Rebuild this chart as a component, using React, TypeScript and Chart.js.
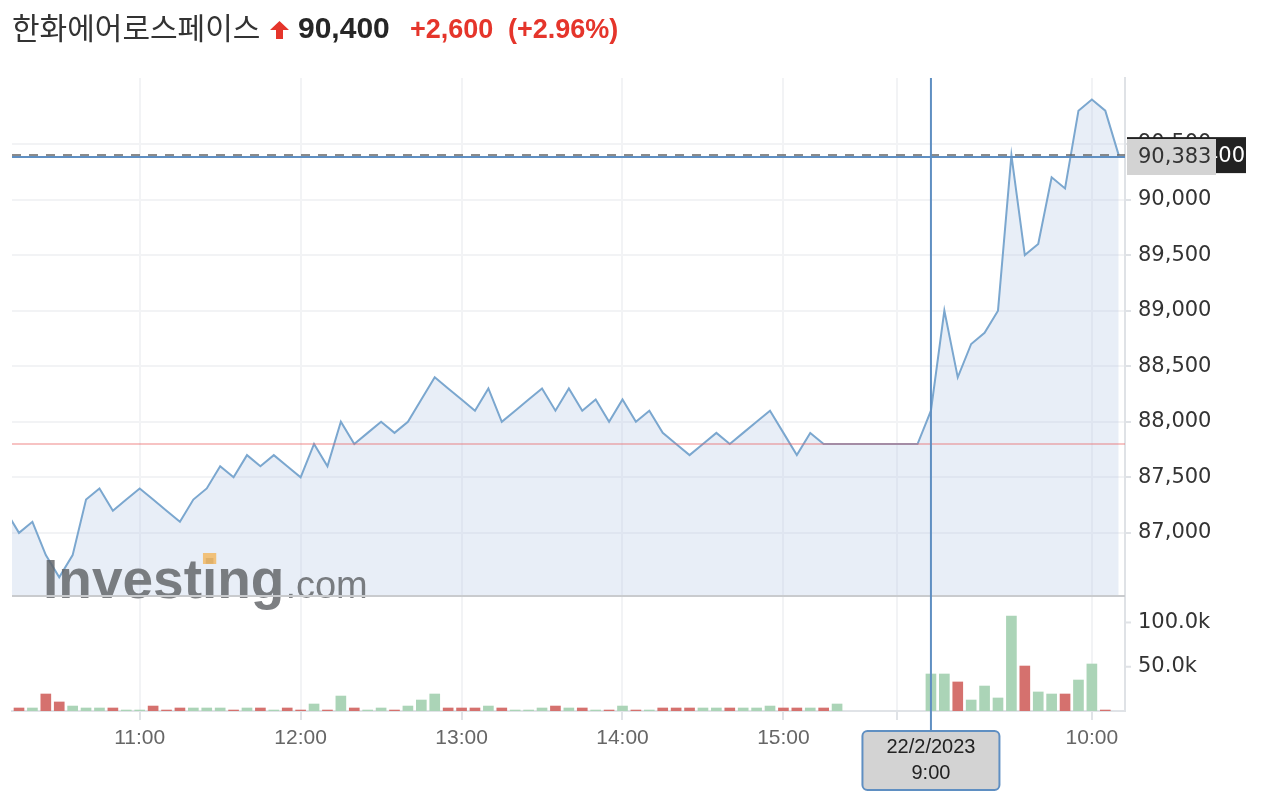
import React, { useEffect, useRef } from 'react';
import { Chart, registerables } from 'chart.js';

Chart.register(...registerables);

// ---------- header ----------
const STOCK_NAME = '한화에어로스페이스';
const LAST_PRICE = 90400;
const CHANGE_TEXT = '+2,600';
const CHANGE_PCT_TEXT = '(+2.96%)';
const PREV_CLOSE = 87800;

// ---------- crosshair state ----------
const CROSSHAIR_PRICE = 90383;
const CROSSHAIR_SLOT = 69;
const CROSSHAIR_DATE = '22/2/2023';
const CROSSHAIR_TIME = '9:00';

// ---------- day 1: 5-minute closes, slots 0..62 (10:10 .. 15:20) ----------
const DAY1_PRICES = [
  87200, 87000, 87100, 86800, 86600, 86800, 87300, 87400, 87200, 87300,
  87400, 87300, 87200, 87100, 87300, 87400, 87600, 87500, 87700, 87600,
  87700, 87600, 87500, 87800, 87600, 88000, 87800, 87900, 88000, 87900,
  88000, 88200, 88400, 88300, 88200, 88100, 88300, 88000, 88100, 88200,
  88300, 88100, 88300, 88100, 88200, 88000, 88200, 88000, 88100, 87900,
  87800, 87700, 87800, 87900, 87800, 87900, 88000, 88100, 87900, 87700,
  87900, 87800, 87800,
];
const DAY1_VOLUMES = [
  0, 3400, 3400, 19200, 10200, 5600, 3400, 3400, 3400, 1100,
  1100, 5600, 1100, 3400, 3400, 3400, 3400, 1100, 3400, 3400,
  1100, 3400, 1100, 7900, 1100, 16900, 3400, 1100, 3400, 1100,
  5600, 12400, 19200, 3400, 3400, 3400, 5600, 3400, 1100, 1100,
  3400, 5600, 3400, 3400, 1100, 1100, 5600, 1100, 1100, 3400,
  3400, 3400, 3400, 3400, 3400, 3400, 3400, 5600, 3400, 3400,
  3400, 3400, 7900,
];
const DAY1_DIRS = [
  'U', 'D', 'U', 'D', 'D', 'U', 'U', 'U', 'D', 'U',
  'U', 'D', 'D', 'D', 'U', 'U', 'U', 'D', 'U', 'D',
  'U', 'D', 'D', 'U', 'D', 'U', 'D', 'U', 'U', 'D',
  'U', 'U', 'U', 'D', 'D', 'D', 'U', 'D', 'U', 'U',
  'U', 'D', 'U', 'D', 'U', 'D', 'U', 'D', 'U', 'D',
  'D', 'D', 'U', 'U', 'D', 'U', 'U', 'U', 'D', 'D',
  'U', 'D', 'U',
];

// ---------- day 2 (22/2/2023): slots 68..83 (8:55 .. 10:10) ----------
const DAY2_FIRST_SLOT = 68;
const DAY2_PRICES = [
  87800, 88100, 89000, 88400, 88700, 88800, 89000, 90400,
  89500, 89600, 90200, 90100, 90800, 90900, 90800, 90400,
];
const DAY2_VOLUMES = [
  0, 41800, 41800, 32800, 12400, 28200, 14700, 107300,
  50800, 21500, 19200, 19200, 35000, 53100, 1100, 0,
];
const DAY2_DIRS = [
  'U', 'U', 'U', 'D', 'U', 'U', 'U', 'U',
  'D', 'U', 'U', 'D', 'U', 'U', 'D', 'D',
];

// ---------- axes ----------
const X_TICK_SLOTS = [10, 22, 34, 46, 58, 66.45, 81];
const X_TICK_LABELS = ['11:00', '12:00', '13:00', '14:00', '15:00', '9:00', '10:00'];
const PRICE_TICKS = [87000, 87500, 88000, 88500, 89000, 89500, 90000, 90500];
const VOLUME_TICKS = [50000, 100000];
const VOLUME_TICK_LABELS = ['50.0k', '100.0k'];

const X_MIN = 0.478;
const X_MAX = 83.47;
const PRICE_MIN = 85397;
const PRICE_MAX = 91094;
const PRICE_FLOOR = 86432;
const VOLUME_MAX = 715000;

const UP_COLOR = '#abd4b7';
const DOWN_COLOR = '#d5716e';
const LINE_COLOR = '#7ba7cf';
const CROSS_COLOR = '#5f8fc2';
const AXIS_FONT = '"DejaVu Sans", Verdana, sans-serif';
const LABEL_FONT = '"Liberation Sans", Arial, sans-serif';

const fmt = (v: number) => v.toLocaleString('en-US');

const overlayPlugin = {
  id: 'overlay',
  afterDatasetsDraw(chart: any) {
    const { ctx, chartArea: a, scales } = chart;
    const y = scales.y;
    ctx.save();
    // previous close line
    const yPrev = y.getPixelForValue(PREV_CLOSE);
    ctx.strokeStyle = 'rgba(235,95,95,0.5)';
    ctx.lineWidth = 1.5;
    ctx.beginPath();
    ctx.moveTo(a.left, yPrev);
    ctx.lineTo(a.right, yPrev);
    ctx.stroke();

    // watermark
    const yFloor = y.getPixelForValue(PRICE_FLOOR);
    const wx = a.left + 31;
    const wy = yFloor + 2;
    ctx.fillStyle = 'rgba(96,99,103,0.82)';
    ctx.textBaseline = 'alphabetic';
    ctx.textAlign = 'left';
    ctx.font = `bold 55px ${LABEL_FONT}`;
    ctx.fillText('Investing', wx, wy);
    const wInvest = ctx.measureText('Invest').width;
    const wI = ctx.measureText('i').width;
    const wAll = ctx.measureText('Investing').width;
    ctx.fillStyle = 'rgba(242,185,100,0.85)';
    ctx.fillRect(wx + wInvest + 1, wy - 45, wI - 2, 11);
    ctx.fillStyle = 'rgba(96,99,103,0.82)';
    ctx.font = `38px ${LABEL_FONT}`;
    ctx.fillText('.com', wx + wAll + 1, wy);
    ctx.restore();
  },
  afterDraw(chart: any) {
    const { ctx, chartArea: a, scales } = chart;
    const x = scales.x;
    const y = scales.y;
    const yv = scales.yv;
    ctx.save();

    // pane separator
    const yFloor = y.getPixelForValue(PRICE_FLOOR);
    ctx.strokeStyle = '#c9cbce';
    ctx.lineWidth = 2;
    ctx.beginPath();
    ctx.moveTo(a.left, yFloor);
    ctx.lineTo(a.right, yFloor);
    ctx.stroke();

    // volume axis labels + ticks
    ctx.font = `21px ${AXIS_FONT}`;
    ctx.fillStyle = '#333';
    ctx.textAlign = 'left';
    ctx.textBaseline = 'middle';
    VOLUME_TICKS.forEach((v, i) => {
      const py = yv.getPixelForValue(v);
      ctx.strokeStyle = '#dfe2e6';
      ctx.lineWidth = 2;
      ctx.beginPath();
      ctx.moveTo(a.right, py);
      ctx.lineTo(a.right + 6, py);
      ctx.stroke();
      ctx.fillText(VOLUME_TICK_LABELS[i], a.right + 13, py);
    });

    // last price dashed line
    const yLast = y.getPixelForValue(LAST_PRICE);
    ctx.strokeStyle = '#666';
    ctx.lineWidth = 1.5;
    ctx.setLineDash([9, 8]);
    ctx.beginPath();
    ctx.moveTo(a.left, yLast);
    ctx.lineTo(a.right, yLast);
    ctx.stroke();
    ctx.setLineDash([]);

    // crosshair horizontal
    const yCross = y.getPixelForValue(CROSSHAIR_PRICE);
    ctx.strokeStyle = CROSS_COLOR;
    ctx.lineWidth = 2;
    ctx.beginPath();
    ctx.moveTo(a.left, yCross);
    ctx.lineTo(a.right, yCross);
    ctx.stroke();

    // crosshair vertical
    const xCross = x.getPixelForValue(CROSSHAIR_SLOT);
    const boxTop = a.bottom + 20;
    ctx.beginPath();
    ctx.moveTo(xCross, a.top);
    ctx.lineTo(xCross, boxTop);
    ctx.stroke();

    // last price label (black)
    ctx.fillStyle = '#222';
    ctx.fillRect(a.right + 2, yLast - 18, 119, 36);
    ctx.fillStyle = '#fff';
    ctx.textAlign = 'right';
    ctx.fillText(fmt(LAST_PRICE), a.right + 120, yLast + 1);

    // crosshair price label (grey)
    ctx.fillStyle = '#d3d3d3';
    ctx.fillRect(a.right + 2, yCross - 18, 89, 36);
    ctx.fillStyle = '#333';
    ctx.textAlign = 'left';
    ctx.fillText(fmt(CROSSHAIR_PRICE), a.right + 13, yCross + 1);

    // crosshair time label
    const bw = 137;
    const bh = 59;
    const bx = xCross - bw / 2;
    ctx.beginPath();
    ctx.roundRect(bx, boxTop, bw, bh, 5);
    ctx.fillStyle = '#d3d3d3';
    ctx.fill();
    ctx.strokeStyle = CROSS_COLOR;
    ctx.lineWidth = 2;
    ctx.stroke();
    ctx.fillStyle = '#222';
    ctx.font = `20px ${LABEL_FONT}`;
    ctx.textAlign = 'center';
    ctx.fillText(CROSSHAIR_DATE, xCross, boxTop + 16);
    ctx.fillText(CROSSHAIR_TIME, xCross, boxTop + 42);
    ctx.restore();
  },
};

export default function App() {
  const canvasRef = useRef<HTMLCanvasElement | null>(null);

  useEffect(() => {
    if (!canvasRef.current) return;
    const pricePts = [
      ...DAY1_PRICES.map((p, i) => ({ x: i, y: p })),
      ...DAY2_PRICES.map((p, i) => ({ x: DAY2_FIRST_SLOT + i, y: p })),
    ];
    const volAll = [
      ...DAY1_VOLUMES.map((v, i) => ({ x: i, y: v, d: DAY1_DIRS[i] })),
      ...DAY2_VOLUMES.map((v, i) => ({ x: DAY2_FIRST_SLOT + i, y: v, d: DAY2_DIRS[i] })),
    ].filter((p) => p.y > 0);
    const volPts = volAll.map((p) => ({ x: p.x, y: p.y }));
    const volColors = volAll.map((p) => (p.d === 'U' ? UP_COLOR : DOWN_COLOR));

    const chart = new Chart(canvasRef.current, {
      type: 'line',
      data: {
        datasets: [
          {
            type: 'line',
            data: pricePts,
            yAxisID: 'y',
            borderColor: LINE_COLOR,
            borderWidth: 2,
            pointRadius: 0,
            tension: 0,
            fill: { value: PRICE_FLOOR },
            backgroundColor: 'rgba(178,198,228,0.3)',
            order: 1,
          } as any,
          {
            type: 'bar',
            data: volPts,
            yAxisID: 'yv',
            backgroundColor: volColors,
            barThickness: 10,
            order: 2,
          } as any,
        ],
      },
      options: {
        responsive: false,
        maintainAspectRatio: false,
        animation: false,
        events: [],
        layout: { padding: { left: 12, top: 78, right: 0, bottom: 0 } },
        plugins: { legend: { display: false }, tooltip: { enabled: false } },
        scales: {
          x: {
            type: 'linear',
            min: X_MIN,
            max: X_MAX,
            offset: false,
            afterBuildTicks: (s: any) => {
              s.ticks = X_TICK_SLOTS.map((v) => ({ value: v }));
            },
            afterFit: (s: any) => {
              s.height = 93;
            },
            ticks: {
              autoSkip: false,
              maxRotation: 0,
              padding: 6,
              color: '#666',
              font: { family: LABEL_FONT, size: 21 },
              callback: (_v: any, i: number) => X_TICK_LABELS[i],
            },
            grid: { offset: false, color: '#f2f3f5', lineWidth: 2, tickColor: '#e0e3e7', tickLength: 9 },
            border: { display: true, color: '#e0e3e7', width: 2 },
          },
          y: {
            position: 'right',
            min: PRICE_MIN,
            max: PRICE_MAX,
            afterBuildTicks: (s: any) => {
              s.ticks = PRICE_TICKS.map((v) => ({ value: v }));
            },
            afterFit: (s: any) => {
              s.width = 137;
            },
            ticks: {
              padding: 7,
              color: '#333',
              font: { family: AXIS_FONT, size: 21 },
              callback: (v: any) => fmt(Number(v)),
            },
            grid: { color: '#f2f3f5', lineWidth: 2, tickColor: '#dfe2e6', tickLength: 6 },
            border: { display: true, color: '#dfe2e6', width: 2 },
          },
          yv: {
            display: false,
            min: 0,
            max: VOLUME_MAX,
          },
        },
      } as any,
      plugins: [overlayPlugin],
    });
    return () => chart.destroy();
  }, []);

  const red = '#e5352b';
  return (
    <div style={{ position: 'fixed', left: 0, top: 0, width: 1262, height: 804, background: '#fff', overflow: 'hidden' }}>
      <canvas ref={canvasRef} width={1262} height={804} style={{ position: 'absolute', left: 0, top: 0, width: 1262, height: 804 }} />
      <span
        style={{
          position: 'absolute', left: 12, top: 11, fontFamily: '"Noto Sans CJK KR", sans-serif',
          fontSize: 30, lineHeight: '30px', color: '#333', whiteSpace: 'nowrap',
        }}
      >
        {STOCK_NAME}
      </span>
      <svg style={{ position: 'absolute', left: 270, top: 21 }} width={19} height={18} viewBox="0 0 19 18">
        <polygon points="9.5,0 19,9 13,9 13,18 6,18 6,9 0,9" fill={red} />
      </svg>
      <span
        style={{
          position: 'absolute', left: 298, top: 13, fontFamily: '"Liberation Sans", Arial, sans-serif',
          fontWeight: 'bold', fontSize: 30, lineHeight: '30px', color: '#262626', whiteSpace: 'nowrap',
        }}
      >
        {fmt(LAST_PRICE)}
      </span>
      <span
        style={{
          position: 'absolute', left: 410, top: 15.6, fontFamily: '"Liberation Sans", Arial, sans-serif',
          fontWeight: 'bold', fontSize: 27, lineHeight: '27px', color: red, whiteSpace: 'nowrap',
        }}
      >
        {CHANGE_TEXT}
      </span>
      <span
        style={{
          position: 'absolute', left: 508, top: 15.6, fontFamily: '"Liberation Sans", Arial, sans-serif',
          fontWeight: 'bold', fontSize: 27, lineHeight: '27px', color: red, whiteSpace: 'nowrap',
        }}
      >
        {CHANGE_PCT_TEXT}
      </span>
    </div>
  );
}
